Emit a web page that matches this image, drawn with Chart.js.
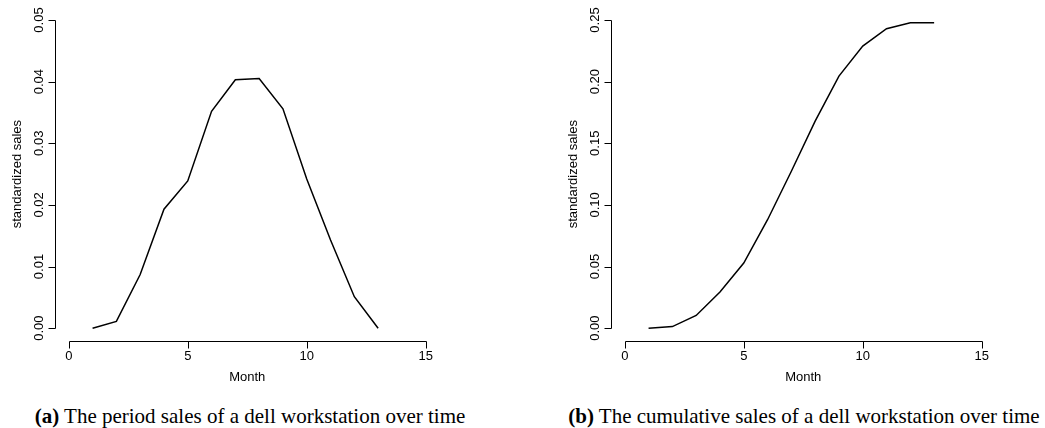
<!DOCTYPE html>
<html lang="en">
<head>
<meta charset="UTF-8">
<title>Dell workstation sales</title>
<script src="https://cdn.jsdelivr.net/npm/chart.js@4.4.1/dist/chart.umd.min.js"></script>
<style>
    body { margin: 0; background: #fff; width: 1045px; height: 428px; position: relative; overflow: hidden; }
    .panel { position: absolute; top: 0; width: 520px; height: 390px; }
    .caption { position: absolute; top: 405px; width: 560px; text-align: center; white-space: nowrap;
               font: 21px "Liberation Serif", "Times New Roman", serif; line-height: 22px; color: #000; }
</style>
</head>
<body>
<div class="panel" style="left:0"><canvas id="periodChart" width="520" height="390"></canvas></div>
<div class="panel" style="left:556px"><canvas id="cumulativeChart" width="520" height="390"></canvas></div>
<div class="caption" style="left:-30px"><b>(a)</b> The period sales of a dell workstation over time</div>
<div class="caption" style="left:524px"><b>(b)</b> The cumulative sales of a dell workstation over time</div>

<script>
    // data
    const months = [1, 2, 3, 4, 5, 6, 7, 8, 9, 10, 11, 12, 13];
    const periodSales = [0, 0.0011, 0.0087, 0.0193, 0.0239, 0.0352, 0.0403, 0.0405, 0.0356, 0.0242, 0.0143, 0.0051, 0];
    const cumulativeSales = [0, 0.0013, 0.0103, 0.0293, 0.0528, 0.0880, 0.1273, 0.1680, 0.2045, 0.2289, 0.2430, 0.2478, 0.2478];

    const monthTicks = [0, 5, 10, 15];
    const periodTicks = [0, 0.01, 0.02, 0.03, 0.04, 0.05];
    const periodTickLabels = ['0.00', '0.01', '0.02', '0.03', '0.04', '0.05'];
    const cumulativeTicks = [0, 0.05, 0.10, 0.15, 0.20, 0.25];
    const cumulativeTickLabels = ['0.00', '0.05', '0.10', '0.15', '0.20', '0.25'];

    const FONT = '13px "Liberation Sans", Arial, sans-serif';

    // R style axes: lines only span the tick range, rotated y labels
    const rAxes = {
        id: 'rAxes',
        afterDraw(chart, args, opts) {
            const ctx = chart.ctx, xs = chart.scales.x, ys = chart.scales.y, a = chart.chartArea;
            const xb = Math.round(a.bottom) + 0.5;
            const yl = Math.round(a.left) + 0.5;
            ctx.save();
            ctx.strokeStyle = '#000';
            ctx.lineWidth = 1;
            ctx.fillStyle = '#000';
            ctx.font = FONT;

            // x axis
            ctx.beginPath();
            ctx.moveTo(Math.round(xs.getPixelForValue(opts.xTicks[0])) + 0.5, xb);
            ctx.lineTo(Math.round(xs.getPixelForValue(opts.xTicks[opts.xTicks.length - 1])) + 0.5, xb);
            opts.xTicks.forEach(v => {
                const px = Math.round(xs.getPixelForValue(v)) + 0.5;
                ctx.moveTo(px, xb);
                ctx.lineTo(px, xb + 7);
            });
            ctx.stroke();
            ctx.textAlign = 'center';
            ctx.textBaseline = 'middle';
            opts.xTicks.forEach(v => ctx.fillText(String(v), xs.getPixelForValue(v), xb + 15));
            ctx.fillText(opts.xTitle, (a.left + a.right) / 2, xb + 36);

            // y axis
            ctx.beginPath();
            ctx.moveTo(yl, Math.round(ys.getPixelForValue(opts.yTicks[0])) + 0.5);
            ctx.lineTo(yl, Math.round(ys.getPixelForValue(opts.yTicks[opts.yTicks.length - 1])) + 0.5);
            opts.yTicks.forEach(v => {
                const py = Math.round(ys.getPixelForValue(v)) + 0.5;
                ctx.moveTo(yl, py);
                ctx.lineTo(yl - 7, py);
            });
            ctx.stroke();
            opts.yTicks.forEach((v, i) => {
                ctx.save();
                ctx.translate(yl - 16, ys.getPixelForValue(v));
                ctx.rotate(-Math.PI / 2);
                ctx.fillText(opts.yLabels[i], 0, 0);
                ctx.restore();
            });
            ctx.save();
            ctx.translate(yl - 38, (a.top + a.bottom) / 2);
            ctx.rotate(-Math.PI / 2);
            ctx.fillText(opts.yTitle, 0, 0);
            ctx.restore();

            ctx.restore();
        }
    };

    function makeChart(id, values, yMin, yMax, yTicks, yLabels) {
        return new Chart(document.getElementById(id), {
            type: 'line',
            data: {
                datasets: [{
                    data: months.map((m, i) => ({ x: m, y: values[i] })),
                    borderColor: '#000',
                    borderWidth: 1.5,
                    pointRadius: 0,
                    tension: 0,
                    fill: false
                }]
            },
            options: {
                responsive: false,
                animation: false,
                layout: { padding: { left: 54.5, top: 7.7, right: 80, bottom: 49.5 } },
                plugins: {
                    legend: { display: false },
                    tooltip: { enabled: false },
                    rAxes: { xTicks: monthTicks, yTicks: yTicks, yLabels: yLabels,
                             xTitle: 'Month', yTitle: 'standardized sales' }
                },
                scales: {
                    x: { type: 'linear', min: -0.6, max: 15.6, display: false },
                    y: { type: 'linear', min: yMin, max: yMax, display: false }
                }
            },
            plugins: [rAxes]
        });
    }

    makeChart('periodChart', periodSales, -0.002, 0.052, periodTicks, periodTickLabels);
    makeChart('cumulativeChart', cumulativeSales, -0.01, 0.26, cumulativeTicks, cumulativeTickLabels);
</script>
</body>
</html>
